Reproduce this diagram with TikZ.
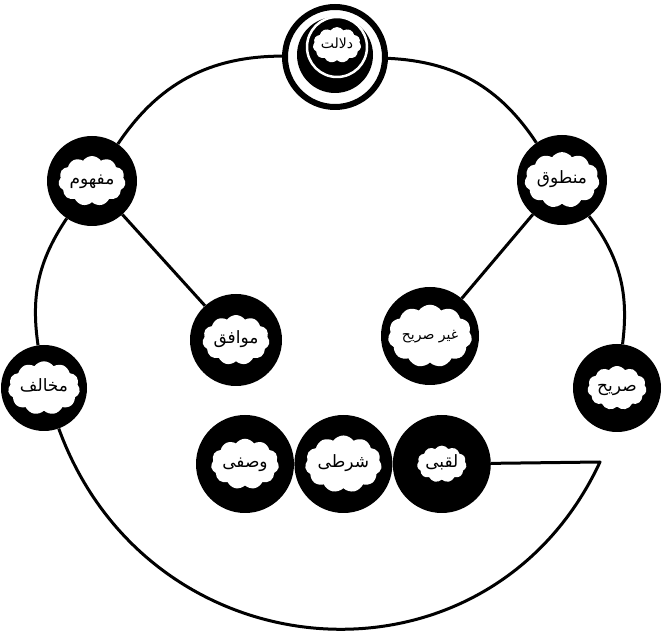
\documentclass[tikz,border=0pt]{standalone}
\usepackage{fontspec}
\usepackage{tikz}
\usetikzlibrary{shapes.symbols, positioning}
\newfontfamily\urdufont[Script=Arabic]{DejaVu Sans}
\TeXXeTstate=1
\newcommand{\ur}[1]{\urdufont\beginR #1\endR}

\begin{document}
\begin{tikzpicture}[
    x=1pt, y=1pt,
    every node/.style={font=\fontsize{17}{19}\selectfont},
    bubble/.style={circle, fill=black, inner sep=0pt, minimum size=#1},
    puff/.style={cloud, cloud puffs=11, cloud puff arc=110, aspect=1.5, fill=white, inner sep=0pt, text height=9pt, text depth=2pt},
    link/.style={line width=3pt, line join=round}
]
\useasboundingbox (0,0) rectangle (665,638);

\node[circle, draw, line width=6pt, minimum size=100pt, inner sep=0pt] (dalalat) at (335,581) {};
\fill (335,583) circle (38);
\draw[white, line width=2.5pt] (337,591) circle (30);
\node[puff, font=\fontsize{14}{16}\selectfont] (dalalat-t) at (337,593) {\ur{دلالت}};

\node[bubble=90pt] (mafhum) at (92,457) {};
\node[puff] (mafhum-t) at (mafhum) {\ur{مفهوم}};

\node[bubble=90pt] (mantuq) at (562,458) {};
\node[puff] (mantuq-t) at (mantuq) {\ur{منطوق}};

\node[bubble=92pt] (muwafiq) at (236,298) {};
\node[puff] (muwafiq-t) at (muwafiq) {\ur{موافق}};

\node[bubble=98pt] (ghair) at (430,302) {};
\node[puff, font=\fontsize{14}{16}\selectfont] (ghair-t) at (ghair) {\ur{غیر صریح}};

\node[bubble=86pt] (mukhalif) at (44,250) {};
\node[puff] (mukhalif-t) at (mukhalif) {\ur{مخالف}};

\node[bubble=88pt] (sarih) at (617,250) {};
\node[puff] (sarih-t) at (sarih) {\ur{صریح}};

\node[bubble=98pt] (wasfi) at (245,174) {};
\node[puff] (wasfi-t) at (wasfi) {\ur{وصفی}};

\node[bubble=98pt, right=0pt of wasfi] (sharti) {};
\node[puff] (sharti-t) at (sharti) {\ur{شرطی}};

\node[bubble=98pt, right=0pt of sharti] (laqabi) {};
\node[puff] (laqabi-t) at (laqabi) {\ur{لقبی}};

\coordinate (corner) at (600,176);

\draw[link] (dalalat) to[bend right=28] (mafhum);
\draw[link] (dalalat) to[bend left=27] (mantuq);
\draw[link] (mafhum) to[bend right=21] (mukhalif);
\draw[link] (mantuq) to[bend left=22] (sarih);
\draw[link] (mafhum) -- (muwafiq);
\draw[link] (mantuq) -- (ghair);
\draw[link] (laqabi) -- (corner) to[out=245, in=-70, looseness=1.25] (mukhalif);

\end{tikzpicture}
\end{document}
